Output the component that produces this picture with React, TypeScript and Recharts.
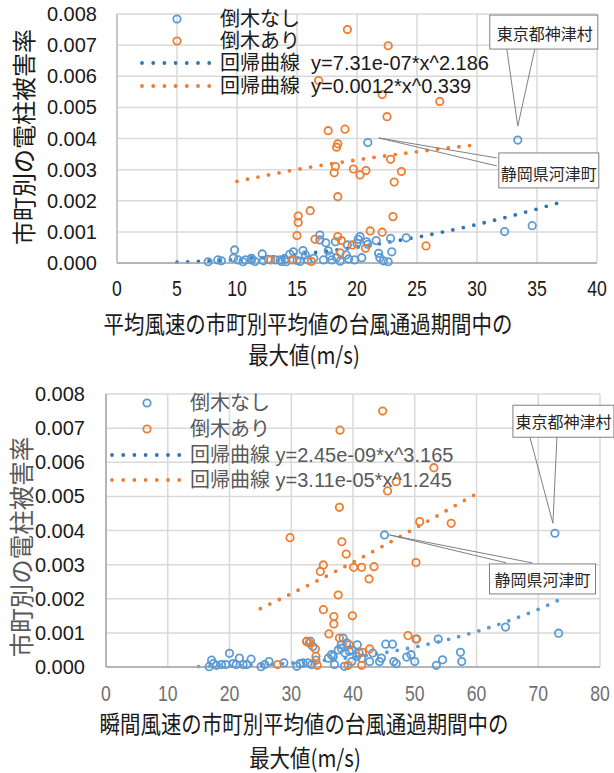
import React from 'react';
import { ComposedChart, Scatter, Line, XAxis, YAxis, CartesianGrid, ReferenceDot, Legend } from 'recharts';

const BLUE = '#5B9BD5';
const ORANGE = '#ED7D31';
const BLUE_DARK = '#2E75B6';
const FONT = "'Liberation Sans', 'Noto Sans CJK JP', sans-serif";
const JP = "'Noto Sans CJK JP', sans-serif";

// ---- Chart 1: 平均風速 ----
const avgNoFall: [number, number][] = [
  [7.6, 0.00004], [8.4, 0.0001], [8.7, 0.00007], [9.7, 0.00016], [9.8, 0.00042], [10.1, 0.0001],
  [10.5, 0.00004], [10.7, 0.0001], [11.2, 0.00015], [11.2, 0.0001], [11.5, 0.00005], [12.1, 0.00029],
  [12.2, 0.00007], [12.6, 0.00012], [13.2, 0.0001], [13.6, 0.0001], [13.7, 0.00005], [14.0, 0.00012],
  [14.1, 0.00004], [14.4, 0.00028], [14.7, 0.00036], [15.0, 0.00008], [15.25, 0.00005], [15.5, 0.0004],
  [15.7, 0.00026], [15.9, 0.0001], [16.4, 0.00015], [16.9, 0.0009], [16.9, 0.00074], [17.2, 0.0001],
  [17.4, 0.00065], [17.6, 0.00039], [17.75, 0.00023], [17.9, 0.0001], [18.2, 0.00068], [18.3, 0.00017],
  [18.6, 0.00006], [19.1, 0.00026], [19.2, 0.00058], [19.3, 0.00013], [19.8, 0.0001], [20.0, 0.00063],
  [20.1, 0.00076], [20.25, 0.00085], [20.4, 0.00017], [20.8, 0.00068], [20.9, 0.0006], [20.9, 0.00387],
  [21.6, 0.00072], [21.8, 0.00031], [21.9, 0.00017], [22.2, 0.00007], [22.6, 0.00004], [22.8, 0.00079],
  [22.9, 0.00036], [24.1, 0.00081], [32.3, 0.00101], [33.4, 0.00395], [34.6, 0.0012],
];
const avgFall: [number, number][] = [
  [12.8, 0.0001], [14.6, 0.0001], [15.0, 0.00088], [15.1, 0.0013], [15.1, 0.00151], [16.1, 0.00168],
  [16.2, 0.00005], [16.5, 0.00076], [16.8, 0.00586], [17.6, 0.00425], [18.1, 0.0029], [18.2, 0.0031],
  [18.3, 0.00372], [18.4, 0.00383], [18.4, 0.00213], [18.4, 0.00085], [18.6, 0.00033], [18.7, 0.00072],
  [19.0, 0.0043], [19.2, 0.0075], [19.6, 0.00058], [19.7, 0.00302], [20.25, 0.00283], [20.7, 0.00047],
  [20.75, 0.00297], [21.1, 0.00103], [22.1, 0.00541], [22.1, 0.00099], [22.5, 0.0047], [22.6, 0.00698],
  [22.8, 0.00333], [23.0, 0.00149], [23.1, 0.0026], [23.7, 0.00294], [25.75, 0.00055], [26.9, 0.00519],
];
// trend curve y=7.31e-07*x^2.186 (values at x)
const avgCurveNoFallX = [5, 10, 15, 20, 25, 30, 35, 37.3];
const avgCurveNoFallY = [0.000025, 0.000112, 0.000272, 0.000511, 0.000831, 0.001238, 0.001735, 0.00199];
// trend curve y=0.0012*x^0.339
const avgCurveFallX = [10, 15, 20, 25, 30];
const avgCurveFallY = [0.00262, 0.003005, 0.003313, 0.003574, 0.003801];
const avgXTicks = [0, 5, 10, 15, 20, 25, 30, 35, 40];

// ---- Chart 2: 瞬間風速 ----
const gustNoFall: [number, number][] = [
  [16.7, 0.00001], [17.1, 0.0002], [17.4, 0.0001], [17.9, 0.00005], [18.7, 0.00007], [19.4, 0.00007],
  [20.0, 0.0004], [20.6, 0.0001], [21.1, 0.00007], [21.6, 0.00026], [22.2, 0.00007], [22.8, 0.00007],
  [23.5, 0.00023], [25.1, 0.00001], [25.7, 0.00007], [26.4, 0.00016], [28.8, 0.00012], [30.9, 0.00002],
  [31.4, 0.0001], [31.9, 0.00012], [32.5, 0.00075], [32.7, 0.00012], [33.1, 0.00075], [33.3, 0.00007],
  [33.5, 0.0006], [34.0, 0.0002], [36.0, 0.00026], [36.5, 0.00036], [36.8, 0.00031], [37.0, 0.00007],
  [37.6, 0.0005], [38.1, 0.00065], [38.1, 0.00055], [38.4, 0.00085], [38.6, 0.00002], [38.7, 0.00041],
  [39.0, 0.0007], [39.4, 0.00046], [39.8, 0.0005], [39.8, 0.00016], [40.6, 0.00031], [40.7, 0.00065],
  [41.0, 0.00041], [41.4, 0.00026], [42.7, 0.00016], [43.2, 0.00041], [44.3, 0.00016], [44.6, 0.00026],
  [45.1, 0.00387], [45.3, 0.00067], [46.4, 0.00067], [46.6, 0.00016], [47.0, 0.0001], [48.7, 0.00029],
  [49.4, 0.00036], [50.0, 0.00016], [50.2, 0.00082], [53.5, 0.00005], [53.8, 0.00082], [54.5, 0.00021],
  [57.4, 0.00043], [57.6, 0.00016], [64.7, 0.00117], [72.7, 0.00392], [73.3, 0.00099],
];
const gustFall: [number, number][] = [
  [27.8, 0.00007], [29.8, 0.00379], [32.5, 0.00075], [32.9, 0.0007], [33.9, 0.00053], [34.0, 0.00031],
  [34.2, 0.00005], [34.7, 0.0028], [35.2, 0.00299], [35.2, 0.00168], [36.1, 0.00097], [36.9, 0.00148],
  [36.9, 0.00126], [37.6, 0.00211], [37.8, 0.00468], [37.8, 0.00085], [37.9, 0.00694], [38.2, 0.00367],
  [38.9, 0.00331], [39.2, 0.00005], [39.4, 0.00065], [39.9, 0.0015], [40.1, 0.00292], [41.4, 0.00292],
  [41.4, 0.00005], [41.5, 0.00043], [42.6, 0.00258], [42.7, 0.00053], [43.4, 0.00294], [44.8, 0.0075],
  [45.6, 0.00516], [47.0, 0.00543], [48.9, 0.00092], [50.2, 0.00306], [50.3, 0.00082], [50.8, 0.00426],
  [53.1, 0.00584], [55.9, 0.00421],
];
// trend curve y=2.45e-09*x^3.165
const gustCurveNoFallX = [15, 20, 25, 30, 35, 40, 45, 50, 55, 60, 65, 70, 74];
const gustCurveNoFallY = [0.0000129, 0.000032, 0.000065, 0.000116, 0.000189, 0.000288, 0.000418, 0.000584, 0.00079, 0.00104, 0.00134, 0.00169, 0.00202];
// trend curve y=3.11e-05*x^1.245
const gustCurveFallX = [25, 30, 35, 40, 45, 50, 55, 60];
const gustCurveFallY = [0.00171, 0.00215, 0.0026, 0.00307, 0.00356, 0.00406, 0.00457, 0.00508];
const gustXTicks = [0, 10, 20, 30, 40, 50, 60, 70, 80];

const yTicks = [0, 0.001, 0.002, 0.003, 0.004, 0.005, 0.006, 0.007, 0.008];

const toPts = (a: [number, number][]) => a.map(([x, y]) => ({ x, y }));
const zip = (xs: number[], ys: number[]) => xs.map((x, i) => ({ x, y: ys[i] }));

const ring = (color: string) => (p: any) => (
  <circle cx={p.cx} cy={p.cy} r={3.7} fill="none" stroke={color} strokeWidth={1.8} />
);

// condensed-looking x tick labels
const narrowTick = (color: string) => (p: any) => (
  <text transform={`translate(${p.x},${p.y}) scale(0.88,1.1)`} textAnchor="middle" dy="0.72em"
    fontFamily={FONT} fontSize={20} fill={color}>
    {p.payload.value}
  </text>
);

type CalloutCfg = {
  text: string;
  tip: [number, number];
  b1: [number, number];
  b2: [number, number];
  box: [number, number, number, number];
  tx: number;
  ty: number;
};
const callout = (c: CalloutCfg) => (p: any) => {
  const { cx, cy } = p;
  return (
    <g>
      <line x1={cx + c.tip[0]} y1={cy + c.tip[1]} x2={cx + c.b1[0]} y2={cy + c.b1[1]} stroke="#808080" strokeWidth={1} />
      <line x1={cx + c.tip[0]} y1={cy + c.tip[1]} x2={cx + c.b2[0]} y2={cy + c.b2[1]} stroke="#808080" strokeWidth={1} />
      <rect x={cx + c.box[0]} y={cy + c.box[1]} width={c.box[2]} height={c.box[3]} fill="#fff" stroke="#808080" strokeWidth={1} />
      <text x={cx + c.tx} y={cy + c.ty} textAnchor="middle" dominantBaseline="central" fontFamily={JP} fontSize={16} fill="#262626">
        {c.text}
      </text>
    </g>
  );
};

type LegendCfg = {
  left: number;
  top: number;
  rows: number[];
  circleX: number;
  lineX1: number;
  lineX2: number;
  textX: number;
  labels: string[];
  color: string;
};
const makeLegend = (c: LegendCfg) => () => {
  const r = (y: number) => y - c.top;
  const xx = (x: number) => x - c.left;
  return (
    <svg width={420} height={110} style={{ overflow: 'visible', display: 'block' }}>
      <circle cx={xx(c.circleX)} cy={r(c.rows[0])} r={3.7} fill="none" stroke={BLUE} strokeWidth={1.8} />
      <circle cx={xx(c.circleX)} cy={r(c.rows[1])} r={3.7} fill="none" stroke={ORANGE} strokeWidth={1.8} />
      <line x1={xx(c.lineX1)} x2={xx(c.lineX2)} y1={r(c.rows[2])} y2={r(c.rows[2])} stroke={BLUE_DARK} strokeWidth={3.8} strokeDasharray="0 11.2" strokeLinecap="round" />
      <line x1={xx(c.lineX1)} x2={xx(c.lineX2)} y1={r(c.rows[3])} y2={r(c.rows[3])} stroke={ORANGE} strokeWidth={3.8} strokeDasharray="0 11.2" strokeLinecap="round" />
      {c.labels.map((t, i) => (
        <text key={i} x={xx(c.textX)} y={r(c.rows[i])} dominantBaseline="central" fontFamily={FONT} fontSize={20} fill={c.color} style={{ whiteSpace: 'pre' }}>
          {t}
        </text>
      ))}
    </svg>
  );
};

const legend1 = makeLegend({
  left: 130, top: 0, rows: [19, 41, 63, 86], circleX: 177, lineX1: 142, lineX2: 212, textX: 220,
  labels: ['倒木なし', '倒木あり', '回帰曲線  y=7.31e-07*x^2.186', '回帰曲線  y=0.0012*x^0.339'], color: '#1a1a1a',
});
// chart 2 block starts at page y=376
const legend2 = makeLegend({
  left: 100, top: 0, rows: [27, 53, 79, 104], circleX: 147, lineX1: 112, lineX2: 180, textX: 190,
  labels: ['倒木なし', '倒木あり', '回帰曲線 y=2.45e-09*x^3.165', '回帰曲線 y=3.11e-05*x^1.245'], color: '#595959',
});

const XTitle = ({ x, y, text }: { x: number; y: number; text: string }) => (
  <text transform={`translate(${x},${y}) scale(0.93,1.08)`} textAnchor="middle" dominantBaseline="central"
    fontFamily={JP} fontSize={22} fill="#1a1a1a">
    {text}
  </text>
);

export default function App() {
  return (
    <div style={{ position: 'absolute', left: 0, top: 0, width: 614, height: 773, background: '#fff' }}>
      {/* Chart 1 */}
      <div style={{ position: 'absolute', left: 0, top: 0, width: 614, height: 376 }}>
        <ComposedChart width={614} height={376} margin={{ top: 14, right: 17, left: 0, bottom: 0 }}>
          <CartesianGrid stroke="#d9d9d9" strokeWidth={1.5} />
          <XAxis dataKey="x" type="number" domain={[0, 40]} ticks={avgXTicks} interval={0} height={113}
            tickLine={false} tickSize={0} tickMargin={17} axisLine={{ stroke: '#a6a6a6', strokeWidth: 1.5 }}
            tick={narrowTick('#1a1a1a')} />
          <YAxis dataKey="y" type="number" domain={[0, 0.008]} ticks={yTicks} interval={0} width={117}
            tickLine={false} tickSize={0} tickMargin={20} axisLine={{ stroke: '#bfbfbf', strokeWidth: 1.5 }}
            tickFormatter={(v: number) => v.toFixed(3)}
            tick={{ fontSize: 20, fill: '#1a1a1a', fontFamily: FONT }} />
          <Legend layout="vertical" align="center" verticalAlign="middle" content={legend1}
            wrapperStyle={{ position: 'absolute', left: 130, top: 0, width: 420, height: 110 }} />
          <Scatter name="倒木なし" data={toPts(avgNoFall)} shape={ring(BLUE)} isAnimationActive={false} />
          <Scatter name="倒木あり" data={toPts(avgFall)} shape={ring(ORANGE)} isAnimationActive={false} />
          <Line data={zip(avgCurveNoFallX, avgCurveNoFallY)} dataKey="y" type="monotone" stroke={BLUE_DARK} strokeWidth={3.8}
            strokeDasharray="0 10.7" strokeLinecap="round" dot={false} activeDot={false} isAnimationActive={false} legendType="none" />
          <Line data={zip(avgCurveFallX, avgCurveFallY)} dataKey="y" type="monotone" stroke={ORANGE} strokeWidth={3.8}
            strokeDasharray="0 10.7" strokeLinecap="round" dot={false} activeDot={false} isAnimationActive={false} legendType="none" />
          <ReferenceDot x={33.4} y={0.00395} r={0} ifOverflow="visible"
            shape={callout({ text: '東京都神津村', tip: [0, -14], b1: [-11, -91], b2: [17, -91], box: [-28, -125, 108, 34], tx: 27, ty: -107 })} />
          <ReferenceDot x={20.9} y={0.00387} r={0} ifOverflow="visible"
            shape={callout({ text: '静岡県河津町', tip: [11, -4.6], b1: [129, 15.4], b2: [129, 23.4], box: [131, 10.4, 100, 35], tx: 181, ty: 30 })} />
        </ComposedChart>
        <svg width={614} height={376} style={{ position: 'absolute', left: 0, top: 0, pointerEvents: 'none' }}>
          <text transform="translate(22,137) rotate(-90)" textAnchor="middle" dominantBaseline="central" fontFamily={JP} fontSize={24} fill="#1a1a1a">
            市町別の電柱被害率
          </text>
          <XTitle x={308} y={322} text="平均風速の市町別平均値の台風通過期間中の" />
          <XTitle x={304} y={353} text="最大値(m/s)" />
        </svg>
      </div>

      {/* Chart 2 */}
      <div style={{ position: 'absolute', left: 0, top: 376, width: 614, height: 397 }}>
        <ComposedChart width={614} height={397} margin={{ top: 18, right: 14, left: 0, bottom: 0 }}>
          <CartesianGrid stroke="#d9d9d9" strokeWidth={1.5} />
          <XAxis dataKey="x" type="number" domain={[0, 80]} ticks={gustXTicks} interval={0} height={106}
            tickLine={false} tickSize={0} tickMargin={18} axisLine={{ stroke: '#a6a6a6', strokeWidth: 1.5 }}
            tick={narrowTick('#6f6f6f')} />
          <YAxis dataKey="y" type="number" domain={[0, 0.008]} ticks={yTicks} interval={0} width={106}
            tickLine={false} tickSize={0} tickMargin={21} axisLine={{ stroke: '#a6a6a6', strokeWidth: 1.5 }}
            tickFormatter={(v: number) => v.toFixed(3)}
            tick={{ fontSize: 20, fill: '#1a1a1a', fontFamily: FONT }} />
          <Legend layout="vertical" align="center" verticalAlign="middle" content={legend2}
            wrapperStyle={{ position: 'absolute', left: 100, top: 0, width: 420, height: 120 }} />
          <Scatter name="倒木なし" data={toPts(gustNoFall)} shape={ring(BLUE)} isAnimationActive={false} />
          <Scatter name="倒木あり" data={toPts(gustFall)} shape={ring(ORANGE)} isAnimationActive={false} />
          <Line data={zip(gustCurveNoFallX, gustCurveNoFallY)} dataKey="y" type="monotone" stroke={BLUE} strokeWidth={3.8}
            strokeDasharray="0 10.5" strokeLinecap="round" dot={false} activeDot={false} isAnimationActive={false} legendType="none" />
          <Line data={zip(gustCurveFallX, gustCurveFallY)} dataKey="y" type="monotone" stroke={ORANGE} strokeWidth={3.8}
            strokeDasharray="0 10.5" strokeLinecap="round" dot={false} activeDot={false} isAnimationActive={false} legendType="none" />
          <ReferenceDot x={72.7} y={0.00392} r={0} ifOverflow="visible"
            shape={callout({ text: '東京都神津村', tip: [-2, -10], b1: [-25, -96], b2: [2, -96], box: [-42, -128, 101, 32], tx: 8.5, ty: -112 })} />
          <ReferenceDot x={45.1} y={0.00387} r={0} ifOverflow="visible"
            shape={callout({ text: '静岡県河津町', tip: [5, 0], b1: [122, 28], b2: [148, 28], box: [105, 29, 106, 30], tx: 158, ty: 44 })} />
        </ComposedChart>
        <svg width={614} height={397} style={{ position: 'absolute', left: 0, top: 0, pointerEvents: 'none' }}>
          <text transform="translate(20,171) rotate(-90)" textAnchor="middle" dominantBaseline="central" fontFamily={JP} fontSize={24.5} fill="#595959">
            市町別の電柱被害率
          </text>
          <XTitle x={304} y={346} text="瞬間風速の市町別平均値の台風通過期間中の" />
          <XTitle x={305} y={380} text="最大値(m/s)" />
        </svg>
      </div>
    </div>
  );
}
